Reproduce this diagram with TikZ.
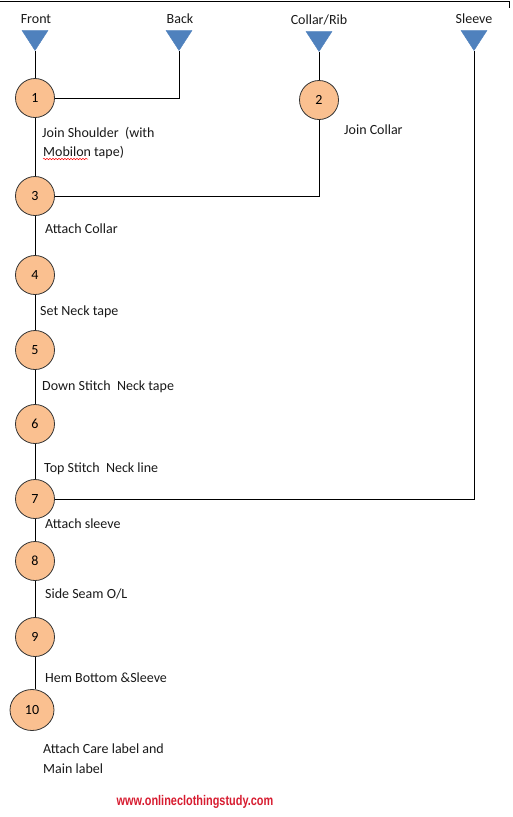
\documentclass[tikz,border=0pt]{standalone}
\usepackage{fontspec}
\setmainfont{Carlito}
\newfontfamily\webfont{Liberation Sans}
\usetikzlibrary{automata,positioning,shapes.geometric,decorations.pathmorphing}

\begin{document}
\begin{tikzpicture}[x=1pt,y=-1pt,font=\fontsize{14}{16}\selectfont]
  \tikzstyle{every state}=[fill={rgb,255:red,250;green,192;blue,144},draw=black!80,line width=0.8pt,minimum size=39pt,inner sep=0pt]
  \tikzstyle{input}=[isosceles triangle,isosceles triangle stretches,shape border rotate=-90,minimum width=26pt,minimum height=20pt,inner sep=0pt,anchor=apex,fill={rgb,255:red,79;green,129;blue,189},draw={rgb,255:red,79;green,129;blue,189}]
  \tikzstyle{title}=[anchor=base,inner sep=0pt,text=black!90]
  \tikzstyle{desc}=[anchor=base west,inner sep=0pt,text=black!90]

  \useasboundingbox (0,0) rectangle (512,817);
  \draw[line width=0.8pt] (0,1) -- (509,1) -- (509,8);

  % parts coming in
  \node[input] (fr) at (35,51)  {};
  \node[input] (bk) at (179,51) {};
  \node[input] (co) at (319,52) {};
  \node[input] (sl) at (474,51) {};
  \node[title] (tfr) at (36,23)  {Front};
  \node[title] (tbk) at (180,23) {Back};
  \node[title] (tco) at (319,24) {Collar/Rib};
  \node[title] (tsl) at (474,23) {Sleeve};

  % operations
  \node[state] (1) at (35,98)  {1};
  \node[state] (2) at (319,100) {2};
  \node[state] (3) at (35,196) {3};
  \node[state] (4) at (35,275) {4};
  \node[state] (5) at (35,350) {5};
  \node[state] (6) at (35,424) {6};
  \node[state] (7) at (35,499) {7};
  \node[state] (8) at (35,561) {8};
  \node[state] (9) at (35,637) {9};
  \node[state,ellipse,minimum width=44pt,minimum height=41pt] (10) at (32,710) {10};

  \path[draw,line width=1pt]
  (fr.apex) -- (1) -- (3) -- (4) -- (5) -- (6) -- (7) -- (8) -- (9)
  (9) -- (9 |- 10.north)
  (1) -| (bk.apex)
  (co.apex) -- (2)
  (2) |- (3)
  (sl.apex) |- (7);

  \node[desc] (d1)  at (42,137) {Join Shoulder\ \ (with};
  \node[desc] (d1b) at (43,156) {Mobilon tape)};
  \draw[red,line width=0.5pt,decorate,decoration={snake,amplitude=0.7pt,segment length=3pt}]
    ([yshift=-3pt]d1b.base west) -- ([xshift=45pt,yshift=-3pt]d1b.base west);
  \node[desc] (d2)  at (344,134) {Join Collar};
  \node[desc] (d3)  at (45,233) {Attach Collar};
  \node[desc] (d4)  at (40,315) {Set Neck tape};
  \node[desc] (d5)  at (42,390) {Down Stitch\ \ Neck tape};
  \node[desc] (d6)  at (44,472) {Top Stitch\ \ Neck line};
  \node[desc] (d7)  at (45,528) {Attach sleeve};
  \node[desc] (d8)  at (45,598) {Side Seam O/L};
  \node[desc] (d9)  at (45,682) {Hem Bottom \&Sleeve};
  \node[desc] (d10) at (43,753) {Attach Care label and};
  \node[desc] (d10b) at (43,773) {Main label};

  \node[anchor=base,inner sep=0pt,text={rgb,255:red,215;green,28;blue,48}] (web) at (195,805)
    {\webfont\bfseries\fontsize{14}{16}\selectfont\scalebox{0.78}[1]{www.onlineclothingstudy.com}};
\end{tikzpicture}
\end{document}
